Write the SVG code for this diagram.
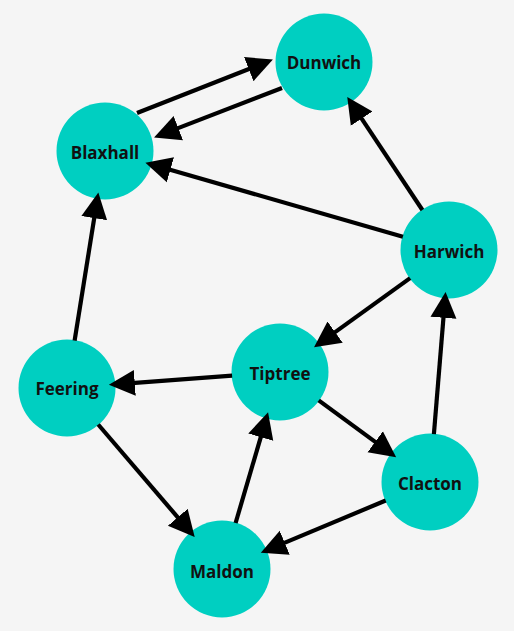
<svg xmlns="http://www.w3.org/2000/svg" width="514" height="631" viewBox="0 0 514 631">
<style>
.node circle{fill:#00cfc1}
.node text{font-family:"Open Sans","Noto Sans",sans-serif;font-weight:bold;font-size:17px;fill:#111;text-anchor:middle;dominant-baseline:central}
.edge{stroke:#000;stroke-width:4.2;fill:none;marker-end:url(#ah)}
</style>
<defs>
<marker id="ah" markerUnits="userSpaceOnUse" markerWidth="27" markerHeight="28" viewBox="0 -14 27 28" refX="3" refY="0" orient="auto">
<path d="M0,-13 L26,0 L0,13 z" fill="#000"/>
</marker>
</defs>
<rect width="514" height="631" fill="#f5f5f5"/>
<g id="nodes">
<g id="dunwich" class="node"><circle cx="324" cy="62" r="48.5"/><text x="324" y="62">Dunwich</text></g>
<g id="blaxhall" class="node"><circle cx="105" cy="151" r="48.5"/><text x="105" y="152">Blaxhall</text></g>
<g id="harwich" class="node"><circle cx="449" cy="250" r="48.5"/><text x="449" y="251">Harwich</text></g>
<g id="tiptree" class="node"><circle cx="280" cy="372" r="48.5"/><text x="280" y="373">Tiptree</text></g>
<g id="feering" class="node"><circle cx="67" cy="388" r="48.5"/><text x="67" y="388">Feering</text></g>
<g id="clacton" class="node"><circle cx="430" cy="482" r="48.5"/><text x="430" y="483">Clacton</text></g>
<g id="maldon" class="node"><circle cx="222" cy="569" r="48.5"/><text x="222" y="571">Maldon</text></g>
</g>
<g id="connectors">
<line class="edge" x1="137" y1="113" x2="251.5" y2="68"/>
<line class="edge" x1="282" y1="88" x2="175.5" y2="129.1"/>
<line class="edge" x1="422.4" y1="210" x2="360" y2="116.1"/>
<line class="edge" x1="402.9" y1="236.7" x2="167.5" y2="169"/>
<line class="edge" x1="74.6" y1="340.6" x2="94.7" y2="215.2"/>
<line class="edge" x1="410.1" y1="278.1" x2="332.7" y2="333.9"/>
<line class="edge" x1="232.1" y1="375.6" x2="131.8" y2="383.1"/>
<line class="edge" x1="318.7" y1="400.4" x2="377.6" y2="443.6"/>
<line class="edge" x1="433.9" y1="434.2" x2="443.7" y2="314.8"/>
<line class="edge" x1="385.7" y1="500.5" x2="282" y2="543.9"/>
<line class="edge" x1="235.6" y1="523" x2="261.6" y2="434.3"/>
<line class="edge" x1="98.2" y1="424.5" x2="179.7" y2="519.6"/>
</g>
</svg>
